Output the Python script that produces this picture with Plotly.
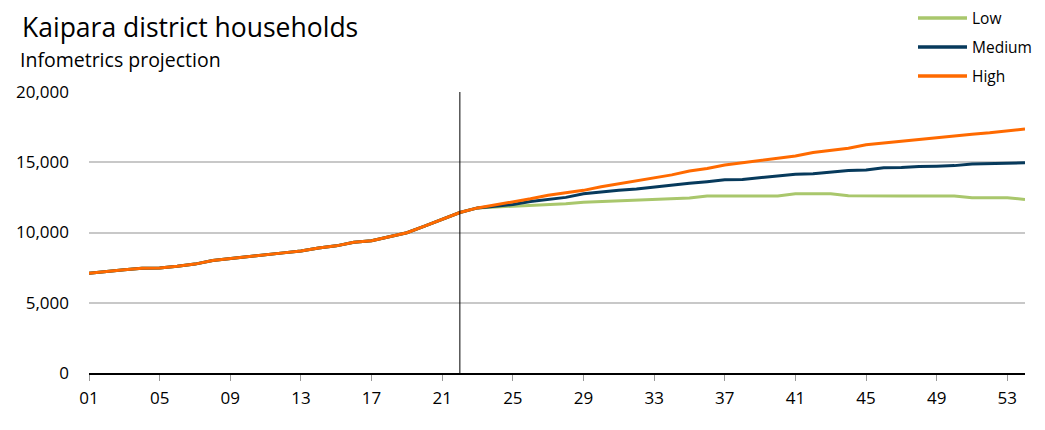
import plotly.graph_objects as go

# ---- data ----
years = list(range(1, 55))
history = [7100, 7250, 7350, 7450, 7480, 7600, 7750, 8000, 8150, 8280,
           8420, 8550, 8680, 8900, 9050, 9300, 9420, 9700, 9980, 10450,
           10950, 11420]
low_proj = [11750, 11800, 11850, 11950, 12000, 12050, 12150, 12200, 12250, 12300,
            12350, 12450, 12450, 12600, 12600, 12600, 12600, 12600, 12750, 12750,
            12750, 12620, 12600, 12600, 12600, 12600, 12600, 12600, 12480, 12480,
            12480, 12350]
med_proj = [11750, 11850, 12000, 12200, 12350, 12500, 12750, 12900, 13000, 13100,
            13250, 13380, 13500, 13620, 13750, 13780, 13900, 14000, 14150, 14180,
            14300, 14420, 14450, 14600, 14620, 14700, 14720, 14760, 14880, 14900,
            14900, 14960]
high_proj = [11750, 11950, 12150, 12400, 12650, 12800, 13000, 13250, 13450, 13650,
             13850, 14100, 14380, 14550, 14800, 14950, 15150, 15300, 15450, 15700,
             15850, 16000, 16250, 16380, 16500, 16620, 16750, 16870, 17000, 17100,
             17220, 17370]
series_names = ["Low", "Medium", "High"]
series_values = [history + low_proj, history + med_proj, history + high_proj]
series_colors = ["#A9C76C", "#073A5C", "#FF6A00"]
tick_years = list(range(1, 55, 4))
tick_labels = [f"{y:02d}" for y in tick_years]
y_ticks = [0, 5000, 10000, 15000, 20000]
divider_year = 22

FONT = "Open Sans"
W, H = 1037, 422
ML, MR, MT, MB = 81, 20, 84, 57
PW, PH = W - ML - MR, H - MT - MB


def px_x(x):
    return (x - ML) / PW


def px_y(y):
    return 1 + (MT - y) / PH


fig = go.Figure()
for name, vals, col in zip(series_names, series_values, series_colors):
    fig.add_trace(go.Scatter(x=years, y=vals, name=name, mode="lines",
                             line=dict(color=col, width=3), showlegend=False))

fig.add_shape(type="line", xref="x", yref="y", x0=divider_year, x1=divider_year,
              y0=0, y1=20000, line=dict(color="black", width=1))

# legend box lightening the top gridline
fig.add_shape(type="rect", xref="paper", yref="paper",
              x0=px_x(899), x1=1.0, y0=px_y(88), y1=px_y(0),
              fillcolor="rgba(255,255,255,0.6)", line=dict(width=0), layer="above")

annotations = [dict(text="Infometrics projection", xref="paper", yref="paper",
                    x=px_x(10), y=px_y(52), xanchor="left", yanchor="middle",
                    showarrow=False, font=dict(size=19.5, family=FONT, color="#000000"))]

# custom legend
leg_y = [10, 39, 68]
for name, col, ly in zip(series_names, series_colors, leg_y):
    fig.add_shape(type="line", xref="paper", yref="paper",
                  x0=px_x(910), x1=px_x(959), y0=px_y(ly), y1=px_y(ly),
                  line=dict(color=col, width=3.5))
    annotations.append(dict(text=name, xref="paper", yref="paper",
                            x=px_x(962), y=px_y(ly), xanchor="left", yanchor="middle",
                            showarrow=False,
                            font=dict(size=15.5, family=FONT, color="#000000")))

fig.update_layout(
    width=W, height=H,
    margin=dict(l=ML, r=MR, t=MT, b=MB, autoexpand=False),
    paper_bgcolor="white", plot_bgcolor="white",
    font=dict(family=FONT, size=17, color="#000000"),
    title=dict(text="Kaipara district households", x=14 / W, xref="container",
               xanchor="left", y=1 - 20 / H, yref="container", yanchor="middle",
               font=dict(size=26.5, family=FONT, color="#000000")),
    showlegend=False,
    annotations=annotations,
)

fig.update_xaxes(range=[1, 54], tickmode="array", tickvals=tick_years, ticktext=tick_labels,
                 showgrid=False, showline=True, linecolor="black", linewidth=1.5,
                 ticks="outside", ticklen=6, tickcolor="#999999", ticklabelstandoff=3,
                 tickfont=dict(size=17, family=FONT), zeroline=False, automargin=False)
fig.update_yaxes(range=[0, 20000], tickmode="array", tickvals=y_ticks,
                 tickformat=",", showgrid=True, gridcolor="#C8C8C8", gridwidth=1.5,
                 showline=False, zeroline=False, ticks="", ticklabelstandoff=19,
                 tickfont=dict(size=17, family=FONT), automargin=False)

fig.write_html("out.html")
